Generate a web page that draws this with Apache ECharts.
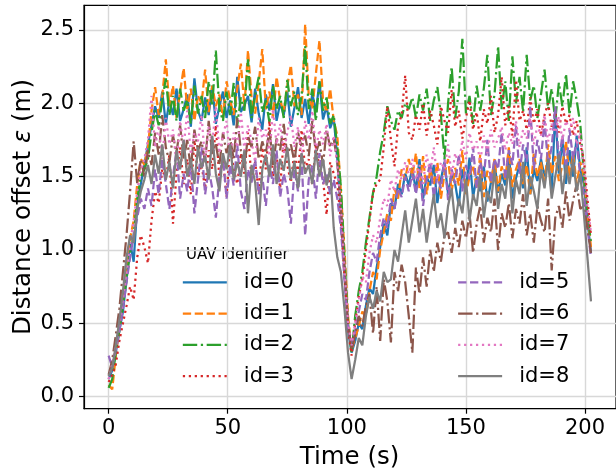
<!DOCTYPE html>
<html><head><meta charset="utf-8">
<script src="https://cdn.jsdelivr.net/npm/echarts@6/dist/echarts.min.js"></script>
<style>html,body{margin:0;padding:0;background:#fff}#c{width:616px;height:473px}</style>
</head><body><div id="c"></div>
<script>
const times = [
0,1.5,3,4.5,6,7.5,9,10.5,12,13.5,
15,16.5,18,19.5,21,22.5,24,25.5,27,28.5,
30,31.5,33,34.5,36,37.5,39,40.5,42,43.5,
45,46.5,48,49.5,51,52.5,54,55.5,57,58.5,
60,61.5,63,64.5,66,67.5,69,70.5,72,73.5,
75,76.5,78,79.5,81,82.5,84,85.5,87,88.5,
90,91.5,93,94.5,96,97.5,99,100.5,102,103.5,
105,106.5,108,109.5,111,112.5,114,115.5,117,118.5,
120,121.5,123,124.5,126,127.5,129,130.5,132,133.5,
135,136.5,138,139.5,141,142.5,144,145.5,147,148.5,
150,151.5,153,154.5,156,157.5,159,160.5,162,163.5,
165,166.5,168,169.5,171,172.5,174,175.5,177,178.5,
180,181.5,183,184.5,186,187.5,189,190.5,192,193.5,
195,196.5,198,199.5,201,202.5];

const id0 = [
0.12,0.18,0.30,0.45,0.58,0.80,1.05,0.92,1.30,1.45,
1.58,1.72,1.85,1.98,1.90,2.08,1.86,2.02,1.92,2.10,
1.88,1.96,2.06,1.84,2.17,1.95,1.88,2.04,1.92,2.12,
1.86,1.98,2.08,1.90,2.02,1.85,2.18,1.94,1.99,2.05,
1.87,2.10,1.93,1.82,2.06,1.95,2.13,1.88,2.00,1.92,
2.08,1.84,1.97,2.11,1.90,2.03,1.86,2.07,1.94,2.15,
1.89,1.98,1.83,1.90,1.62,1.25,0.85,0.45,0.30,0.38,
0.50,0.46,0.62,0.74,0.70,0.88,1.02,1.18,1.10,1.32,
1.28,1.45,1.38,1.52,1.44,1.56,1.40,1.62,1.35,1.50,
1.44,1.58,1.32,1.48,1.60,1.38,1.52,1.45,1.30,1.55,
1.42,1.63,1.36,1.50,1.40,1.57,1.33,1.46,1.60,1.39,
1.52,1.44,1.66,1.35,1.49,1.58,1.42,1.70,1.38,1.55,
1.47,1.62,1.50,1.62,1.40,1.95,1.52,1.75,1.45,1.68,
1.50,1.78,1.55,1.45,1.20,0.98];

const id1 = [
0.08,0.05,0.28,0.48,0.66,0.90,1.08,1.20,1.45,1.62,
1.58,1.70,1.95,2.11,1.92,2.05,2.30,1.98,2.12,1.90,
2.08,2.24,1.96,2.10,1.88,2.05,2.00,2.23,1.94,2.12,
1.98,2.06,1.90,2.15,2.02,1.92,2.10,2.27,1.98,2.36,
2.04,1.93,2.14,2.37,1.96,2.08,1.90,2.18,2.02,1.94,
2.12,2.26,1.98,2.06,1.92,2.54,2.05,1.96,2.20,2.43,
2.02,1.94,2.10,1.88,1.78,1.40,1.00,0.55,0.32,0.40,
0.48,0.58,0.55,0.72,0.85,0.80,1.00,1.12,1.25,1.20,
1.42,1.35,1.55,1.48,1.62,1.50,1.66,1.42,1.64,1.38,
1.55,1.45,1.60,1.35,1.52,1.62,1.40,1.56,1.44,1.68,
1.38,1.50,1.58,1.42,1.65,1.36,1.54,1.46,1.62,1.40,
1.57,1.48,1.70,1.43,1.55,1.62,1.45,1.58,1.38,1.66,
1.50,1.60,1.44,1.72,1.52,1.64,1.47,1.58,1.74,1.50,
1.66,1.45,1.60,1.50,1.25,1.02];

const id2 = [
0.06,0.12,0.30,0.45,0.62,0.80,0.98,1.10,1.35,1.50,
1.55,1.62,1.80,1.95,1.85,2.02,2.17,1.92,2.05,1.88,
2.10,1.95,2.02,1.86,2.12,1.93,2.05,1.90,2.15,1.98,
2.36,1.96,1.88,2.08,1.92,2.14,1.85,2.04,1.95,2.30,
1.90,2.06,2.18,1.94,2.02,1.87,2.12,1.96,2.05,1.90,
2.16,1.98,2.08,1.92,2.05,2.39,1.96,2.10,1.88,2.15,
1.95,2.04,1.86,1.92,1.70,1.43,0.95,0.50,0.30,0.55,
0.72,0.85,1.05,1.22,1.39,1.50,1.67,1.80,1.98,1.88,
1.82,1.95,1.90,2.00,1.96,2.04,1.90,2.06,1.95,2.10,
1.88,2.02,2.11,1.92,1.62,2.00,2.25,1.90,2.08,2.44,
1.93,2.05,1.86,2.12,1.95,2.10,2.33,1.92,2.06,2.39,
1.96,2.15,1.88,2.32,2.00,2.18,1.94,2.33,2.02,2.12,
1.90,2.06,2.23,1.96,2.10,1.88,2.14,1.98,2.20,1.92,
2.15,2.02,1.86,1.52,1.25,1.05];

const id3 = [
0.10,0.15,0.22,0.38,0.50,0.62,0.75,0.66,0.95,1.10,
1.02,0.91,1.20,1.40,1.32,1.55,1.48,1.65,1.18,1.52,
1.70,1.45,1.62,1.38,1.75,1.50,1.58,1.42,1.68,1.55,
1.85,1.48,1.62,1.36,1.72,1.55,1.45,1.66,1.52,1.80,
1.48,1.60,1.40,1.70,1.55,1.88,1.50,1.64,1.42,1.76,
1.58,1.46,1.68,1.52,1.82,1.55,1.62,1.44,1.72,1.56,
1.48,1.24,1.60,1.52,1.45,1.20,0.82,0.45,0.28,0.50,
0.68,0.80,1.00,1.20,1.39,1.45,1.48,1.70,1.98,1.75,
1.57,1.85,1.92,2.19,1.80,1.75,1.92,1.82,2.00,1.78,
1.95,1.85,1.72,1.98,1.88,1.80,2.09,1.84,1.95,1.76,
1.90,2.02,1.82,1.94,1.74,1.96,1.86,2.05,1.80,1.92,
2.18,1.85,1.98,1.78,2.16,1.88,1.95,1.82,2.04,1.86,
1.96,1.78,1.92,2.00,1.84,1.94,1.80,1.98,1.86,1.92,
1.78,1.88,1.72,1.62,1.35,1.10];

const id5 = [
0.28,0.20,0.32,0.45,0.60,0.78,0.95,1.10,1.22,1.35,
1.28,1.42,1.30,1.55,1.38,1.62,1.45,1.28,1.50,1.68,
1.35,1.52,1.40,1.60,1.25,1.48,1.70,1.38,1.55,1.42,
1.22,1.50,1.64,1.35,1.58,1.44,1.72,1.40,1.28,1.55,
1.46,1.62,1.38,1.50,1.30,1.58,1.45,1.68,1.36,1.52,
1.42,1.18,1.55,1.40,1.62,1.10,1.48,1.58,1.35,1.66,
1.45,1.52,1.38,1.48,1.35,1.15,0.80,0.48,0.34,0.45,
0.58,0.70,0.66,0.85,0.98,0.92,1.10,1.22,1.15,1.35,
1.28,1.42,1.36,1.50,1.40,1.52,1.38,1.55,1.30,1.48,
1.60,1.36,1.50,1.42,1.62,1.34,1.55,1.45,1.65,1.40,
1.58,1.48,1.70,1.42,1.60,1.50,1.75,1.46,1.62,1.55,
1.80,1.48,1.68,1.58,1.85,1.52,1.72,1.60,1.98,1.55,
1.75,1.62,1.88,1.58,1.70,1.98,1.60,1.78,1.55,1.82,
1.62,1.74,1.50,1.38,1.15,0.95];

const id6 = [
0.15,0.25,0.42,0.60,0.85,1.10,1.40,1.74,1.45,1.62,
1.50,1.68,1.58,1.80,1.65,1.92,1.70,1.60,1.78,1.66,
1.85,1.62,1.75,1.55,1.82,1.68,1.74,1.60,1.88,1.65,
1.72,1.58,1.80,1.66,1.76,1.62,1.90,1.68,1.56,1.78,
1.70,1.84,1.62,1.74,1.66,1.82,1.58,1.76,1.68,1.86,
1.64,1.72,1.60,1.80,1.70,1.78,1.64,1.88,1.66,1.74,
1.58,1.82,1.70,1.76,1.60,1.30,0.90,0.50,0.32,0.42,
0.55,0.48,0.62,0.70,0.43,0.75,0.38,0.80,0.65,0.37,
0.85,0.72,0.90,0.78,0.55,0.30,0.88,0.70,0.95,0.75,
1.00,0.85,1.05,0.92,1.10,1.12,0.98,1.15,1.02,1.20,
1.08,1.25,0.98,1.18,1.30,1.05,1.22,1.12,1.35,1.00,
1.25,1.15,1.32,1.08,1.28,1.18,1.38,1.10,1.25,1.05,
1.30,1.20,1.12,1.35,0.86,1.22,1.30,1.15,1.40,1.20,
1.34,1.45,1.28,1.30,1.15,0.98];

const id7 = [
0.12,0.22,0.35,0.50,0.68,0.85,1.05,1.20,1.40,1.55,
1.62,1.75,2.05,1.70,1.85,1.62,1.90,1.72,1.82,1.58,
1.88,1.70,1.95,1.65,1.80,1.74,1.92,1.60,1.84,1.72,
1.98,1.66,1.78,1.88,1.62,1.80,1.70,1.94,1.68,1.85,
1.74,1.60,1.90,1.76,1.82,1.64,1.96,1.72,1.86,1.66,
1.80,1.92,1.70,1.84,1.62,1.88,1.75,1.95,1.68,1.82,
1.72,1.86,1.64,1.78,1.58,1.30,0.88,0.50,0.35,0.50,
0.65,0.82,0.78,0.98,1.10,1.05,1.22,1.35,1.30,1.48,
1.40,1.55,1.48,1.60,1.52,1.62,1.48,1.58,1.45,1.65,
1.52,1.70,1.48,1.60,1.55,1.72,1.50,1.66,1.58,1.75,
1.62,1.80,1.68,1.74,1.60,1.78,1.66,1.82,1.70,1.76,
1.84,1.68,1.80,1.72,1.88,1.70,1.82,1.76,1.90,1.72,
1.85,1.78,1.92,1.74,1.86,1.80,1.91,1.75,1.88,1.82,
1.90,1.72,1.80,1.55,1.30,1.12];

const id8 = [
0.14,0.20,0.35,0.52,0.72,0.95,1.10,1.05,1.28,1.40,
1.48,1.58,1.45,1.65,1.52,1.72,1.48,1.60,1.42,1.68,
1.55,1.75,1.50,1.62,1.45,1.70,1.56,1.64,1.48,1.78,
1.52,1.40,1.66,1.55,1.72,1.48,1.60,1.50,1.68,1.25,
1.58,1.46,1.17,1.55,1.65,1.50,1.72,1.45,1.62,1.54,
1.70,1.48,1.60,1.42,1.66,1.52,1.58,1.45,1.68,1.50,
1.62,1.44,1.56,1.15,0.95,0.85,0.60,0.30,0.12,0.25,
0.40,0.35,0.55,0.68,0.60,0.72,0.65,0.85,0.78,0.80,
1.00,0.92,1.10,1.27,1.05,1.20,1.35,1.12,1.28,1.05,
1.22,1.38,1.15,1.25,1.08,1.30,1.42,1.18,1.35,1.25,
1.48,1.20,1.38,1.30,1.52,1.22,1.40,1.32,1.55,1.28,
1.45,1.35,1.58,1.25,1.48,1.38,1.60,1.30,1.50,1.40,
1.28,1.55,1.42,1.62,1.35,1.50,1.65,1.38,1.58,1.45,
1.62,1.40,1.52,1.25,0.95,0.65];

const seriesNames = ['id=0','id=1','id=2','id=3','id=5','id=6','id=7','id=8'];
const seriesValues = [id0, id1, id2, id3, id5, id6, id7, id8];
const xTicks = [0, 50, 100, 150, 200];
const yTicks = [0, 0.5, 1, 1.5, 2, 2.5];
const xLabel = 'Time (s)';
const legendTitle = 'UAV identifier';

seriesValues.forEach((v, i) => {
  if (v.length !== times.length) throw new Error(seriesNames[i] + ' has ' + v.length + ' values, expected ' + times.length);
});

const colors = ['#1f77b4','#ff7f0e','#2ca02c','#d62728','#9467bd','#8c564b','#e377c2','#7f7f7f'];
const LW = 2.25;
const DASH = [8.3, 3.6], DASHDOT = [14.4, 3.6, 2.25, 3.6], DOT = [2.25, 3.7];
const styles = ['solid', DASH, DASHDOT, DOT, DASH, DASHDOT, DOT, 'solid'];
const FONT = 'DejaVu Sans';

const chart = echarts.init(document.getElementById('c'), null, {renderer: 'canvas'});

const legendCommon = {
  orient: 'vertical', top: 271.8, padding: 0, itemWidth: 44, itemHeight: 14, itemGap: 10.3,
  selectedMode: false,
  itemStyle: {opacity: 0},
  lineStyle: {width: LW},
  textStyle: {fontSize: 21, fontFamily: FONT, color: '#000', lineHeight: 21, padding: [0, 0, 0, 12]}
};

const option = {
  animation: false,
  backgroundColor: '#fff',
  grid: {left: 84, top: 5.3, width: 533, height: 403.4, show: true, borderColor: '#000', borderWidth: 1.2, backgroundColor: 'transparent'},
  xAxis: {
    type: 'value', min: -10.35, max: 213,
    axisLine: {show: true, onZero: false, lineStyle: {color: '#000', width: 1.2}},
    axisTick: {show: true, customValues: xTicks, length: 5, lineStyle: {color: '#000', width: 1.2}},
    axisLabel: {customValues: xTicks, fontSize: 21, fontFamily: FONT, color: '#000', margin: 9},
    splitLine: {show: true, lineStyle: {color: '#d8d8d8', width: 1.4}}
  },
  yAxis: {
    type: 'value', min: -0.082, max: 2.668,
    axisLine: {show: true, onZero: false, lineStyle: {color: '#000', width: 1.2}},
    axisTick: {show: true, customValues: yTicks, length: 5, lineStyle: {color: '#000', width: 1.2}},
    axisLabel: {customValues: yTicks, fontSize: 21, fontFamily: FONT, color: '#000', margin: 10,
      formatter: v => Number(v).toFixed(1)},
    splitLine: {show: true, lineStyle: {color: '#d8d8d8', width: 1.4}}
  },
  legend: [
    Object.assign({}, legendCommon, {left: 181.7, data: seriesNames.slice(0, 4)}),
    Object.assign({}, legendCommon, {left: 457, data: seriesNames.slice(4)})
  ],
  graphic: [
    {type: 'text', x: 186, y: 255, style: {text: legendTitle, fontSize: 15, fontFamily: FONT, fill: '#000', align: 'left', verticalAlign: 'middle'}},
    {type: 'text', x: 349.5, y: 457.5, style: {text: xLabel, fontSize: 24.5, fontFamily: FONT, fill: '#000', align: 'center', verticalAlign: 'middle'}},
    {type: 'text', x: 24, y: 207, rotation: Math.PI / 2,
      style: {text: 'Distance offset {e|ε} (m)', fontSize: 24.5, fontFamily: FONT, fill: '#000', align: 'center', verticalAlign: 'middle',
        rich: {e: {fontSize: 24.5, fontFamily: FONT, fontStyle: 'italic', fill: '#000'}}}}
  ],
  series: seriesValues.map((vals, i) => ({
    name: seriesNames[i], type: 'line', symbol: 'none', showSymbol: false, smooth: false,
    data: times.map((t, j) => [t, vals[j]]),
    lineStyle: {color: colors[i], width: LW, type: styles[i]},
    itemStyle: {color: colors[i]},
    emphasis: {disabled: true}, silent: true, clip: true
  }))
};
chart.setOption(option);
</script></body></html>
